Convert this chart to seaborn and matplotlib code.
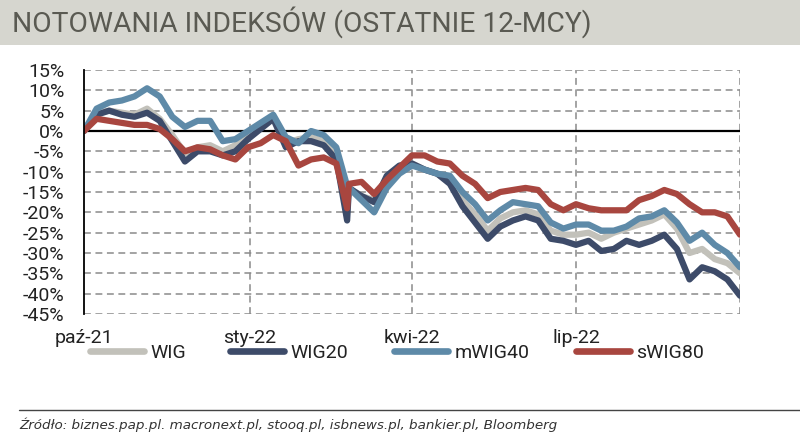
import matplotlib
matplotlib.use("Agg")
import matplotlib.pyplot as plt
from matplotlib.lines import Line2D
import seaborn as sns
import pandas as pd
import numpy as np

# ---------------- data ----------------
dates = [
    "2021-10-01", "2021-10-08", "2021-10-15", "2021-10-22", "2021-10-29", "2021-11-05", "2021-11-12",
    "2021-11-19", "2021-11-26", "2021-12-03", "2021-12-10", "2021-12-17", "2021-12-24", "2021-12-31",
    "2022-01-07", "2022-01-14", "2022-01-21", "2022-01-28", "2022-02-04", "2022-02-11", "2022-02-18",
    "2022-02-24", "2022-02-25", "2022-03-04", "2022-03-11", "2022-03-18", "2022-03-25", "2022-04-01",
    "2022-04-08", "2022-04-15", "2022-04-22", "2022-04-29", "2022-05-06", "2022-05-13", "2022-05-20",
    "2022-05-27", "2022-06-03", "2022-06-10", "2022-06-17", "2022-06-24", "2022-07-01",
    "2022-07-08", "2022-07-15", "2022-07-22", "2022-07-29", "2022-08-05", "2022-08-12", "2022-08-19",
    "2022-08-26", "2022-09-02", "2022-09-09", "2022-09-16", "2022-09-23", "2022-09-30",
]

wig = [0, 4.5, 5, 4.5, 4, 5.5, 3, -1, -5.5, -4, -3.5, -5, -3.5, -1,
       1.5, 3.5, -3, -2, -1.5, -2.5, -6, -20, -14, -16, -17, -11.5, -9, -8,
       -9.5, -10.5, -12.5, -17, -20.5, -24.5, -21.5, -20, -19.5, -20.5, -24.5, -25.5, -25.5,
       -25, -26.5, -25, -24, -23, -22, -20.5, -24, -30, -29, -31.5, -32.5, -35]
wig20 = [0, 4, 5, 4, 3.5, 4.5, 2.5, -2.5, -7.5, -5, -5, -6, -5, -2,
         0.5, 3, -4, -2.5, -2.5, -3.5, -7, -22, -14, -16, -17.5, -11, -8.5, -8,
         -9.5, -10.5, -13, -18.5, -22.5, -26.5, -23.5, -22, -21, -22, -26.5, -27, -28,
         -27, -29.5, -29, -27, -28, -27, -25.5, -29, -36.5, -33.5, -34.5, -36.5, -40.5]
mwig40 = [0, 5.5, 7, 7.5, 8.5, 10.5, 8.5, 3.5, 1, 2.5, 2.5, -2.5, -2, 0,
          2, 4, -1.5, -3, 0, -1, -4, -13.5, -14, -17, -20, -14, -10.5, -8.5,
          -9.5, -10.5, -11, -15, -18, -22, -19.5, -17.5, -18, -18.5, -22.5, -24, -23,
          -23, -24.5, -24.5, -23.5, -21.5, -21, -19.5, -22.5, -27, -25, -28, -30, -33.5]
swig80 = [0, 3, 2.5, 2, 1.5, 1.5, 0.5, -2, -5, -4, -4.5, -6, -7, -4,
          -3, -1, -2.5, -8.5, -7, -6.5, -8, -19, -13, -12.5, -15.5, -12, -9, -6,
          -6, -7.5, -8, -11, -13, -16.5, -15, -14.5, -14, -14.5, -18, -19.5, -18,
          -19, -19.5, -19.5, -19.5, -17, -16, -14.5, -15.5, -18, -20, -20, -21, -25.5]

series_names = ["WIG", "WIG20", "mWIG40", "sWIG80"]
series_values = [wig, wig20, mwig40, swig80]
colors = ["#C2C1BA", "#3D4B69", "#5E8AA8", "#A8463F"]

tick_dates = ["2021-10-01", "2022-01-01", "2022-04-01", "2022-07-01"]
tick_labels = ["paź-21", "sty-22", "kwi-22", "lip-22"]
y_ticks = list(range(-45, 16, 5))

title = "NOTOWANIA INDEKSÓW (OSTATNIE 12-MCY)"
source = "Źródło: biznes.pap.pl. macronext.pl, stooq.pl, isbnews.pl, bankier.pl, Bloomberg"

# ---------------- frame ----------------
df = pd.concat(
    [pd.DataFrame({"date": pd.to_datetime(dates), "value": v, "index": n})
     for n, v in zip(series_names, series_values)],
    ignore_index=True,
)
palette = dict(zip(series_names, colors))

sns.set_theme(style="white")
plt.rcParams["font.family"] = ["Roboto", "DejaVu Sans"]

W, H = 800, 438
fig = plt.figure(figsize=(W / 100, H / 100), dpi=100)
ax = fig.add_axes([84 / W, 1 - 314 / H, (740 - 84) / W, (314 - 70) / H])

sns.lineplot(data=df, x="date", y="value", hue="index", hue_order=series_names,
             palette=palette, linewidth=4.5, legend=False, ax=ax,
             solid_capstyle="round", solid_joinstyle="round")

xmin, xmax = pd.Timestamp("2021-10-01"), pd.Timestamp("2022-09-30")
ax.set_xlim(xmin, xmax)
ax.set_ylim(-45, 15)

FS = 14
grid_kw = dict(color="#8a8a8a", linewidth=1.1, linestyle=(0, (4.5, 3)))
ax.set_yticks(y_ticks)
ax.set_yticklabels([f"{t}%" for t in y_ticks], fontsize=FS, color="#222222")
for t in y_ticks:
    if t != 0:
        ax.axhline(t, zorder=0, **grid_kw)
ax.set_xticks(pd.to_datetime(tick_dates))
ax.set_xticklabels(tick_labels, fontsize=FS, color="#222222")
for d in pd.to_datetime(tick_dates[1:]):
    ax.axvline(d, zorder=0, **grid_kw)
ax.axvline(xmax, zorder=0, **grid_kw)
ax.axhline(0, color="black", linewidth=1.6, zorder=1)

ax.set_xlabel("")
ax.set_ylabel("")
for s in ["top", "right", "bottom"]:
    ax.spines[s].set_visible(False)
ax.spines["left"].set_color("black")
ax.spines["left"].set_linewidth(1.3)
ax.tick_params(axis="y", length=0, pad=14)
ax.tick_params(axis="x", length=0, pad=11)

# legend entries placed individually (interleaved with tick labels)
leg_x = [90, 230, 394, 576]
for name, c, lx in zip(series_names, colors, leg_x):
    h = Line2D([0], [0], color=c, linewidth=4.8, solid_capstyle="round")
    fig.legend([h], [name], loc="center left",
               bbox_to_anchor=(lx / W, 1 - 353 / H),
               frameon=False, handlelength=2.8, handletextpad=0.3,
               borderpad=0, borderaxespad=0, fontsize=FS, labelcolor="#222222")

# title band
fig.patches.append(plt.Rectangle((0, 1 - 45 / H), 1, 45 / H, transform=fig.transFigure,
                                 facecolor="#D6D6CF", edgecolor="none", zorder=0))
fig.text(12 / W, 1 - 22 / H, title, fontsize=20.3, color="#5A5A52", va="center", ha="left")

# source
fig.add_artist(Line2D([19 / W, 1], [1 - 410 / H, 1 - 410 / H], transform=fig.transFigure,
                      color="#444444", linewidth=1.0))
fig.text(19 / W, 1 - 425 / H, source, fontsize=9.7, style="italic", color="#333333",
         va="center", ha="left", family=["DejaVu Sans"])

fig.savefig("out.png", dpi=100)
